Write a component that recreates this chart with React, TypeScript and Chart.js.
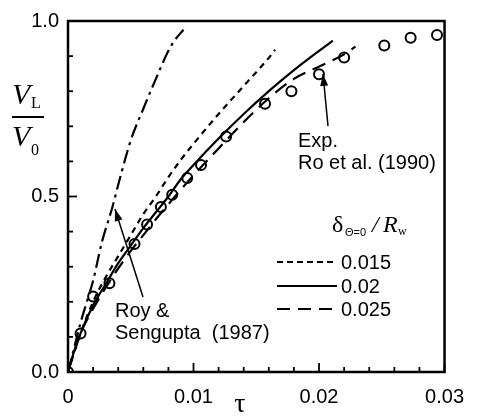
import React, { useEffect, useRef } from "react";
import { Chart, registerables } from "chart.js";

Chart.register(...registerables);

// ---- data ----
const expTau = [0, 0.001, 0.002, 0.0033, 0.0053, 0.0063, 0.0074, 0.0083, 0.0095, 0.0106, 0.0126, 0.0157, 0.0178, 0.02, 0.022, 0.0252, 0.0273, 0.0294];
const expV = [0, 0.11, 0.215, 0.253, 0.365, 0.42, 0.47, 0.505, 0.553, 0.59, 0.671, 0.764, 0.8, 0.848, 0.896, 0.93, 0.952, 0.96];

const tau015 = [0, 0.001, 0.002, 0.003, 0.004, 0.005, 0.006, 0.007, 0.008, 0.009, 0.01, 0.012, 0.014, 0.016, 0.0165];
const v015 = [0, 0.11, 0.2, 0.27, 0.33, 0.39, 0.45, 0.5, 0.555, 0.605, 0.65, 0.735, 0.815, 0.895, 0.918];

const tau02 = [0, 0.0005, 0.001, 0.002, 0.003, 0.004, 0.005, 0.006, 0.007, 0.008, 0.009, 0.01, 0.012, 0.014, 0.016, 0.018, 0.02, 0.0211];
const v02 = [0, 0.06, 0.11, 0.19, 0.25, 0.31, 0.36, 0.41, 0.455, 0.5, 0.55, 0.59, 0.665, 0.735, 0.8, 0.86, 0.915, 0.944];

const tau025 = [0, 0.001, 0.002, 0.003, 0.004, 0.005, 0.006, 0.007, 0.008, 0.009, 0.01, 0.012, 0.014, 0.016, 0.018, 0.02, 0.022, 0.0229];
const v025 = [0, 0.11, 0.18, 0.24, 0.295, 0.345, 0.39, 0.435, 0.478, 0.52, 0.56, 0.637, 0.712, 0.78, 0.835, 0.87, 0.905, 0.927];

const tauRoy = [0, 0.0005, 0.001, 0.0015, 0.002, 0.0027, 0.0035, 0.0042, 0.005, 0.006, 0.007, 0.008, 0.0085, 0.0092];
const vRoy = [0, 0.07, 0.14, 0.2, 0.26, 0.37, 0.465, 0.56, 0.66, 0.75, 0.835, 0.915, 0.945, 0.975];

const xTickLabels: Record<string, string> = { "0": "0", "0.01": "0.01", "0.02": "0.02", "0.03": "0.03" };
const yTickLabels: Record<string, string> = { "0": "0.0", "0.5": "0.5", "1": "1.0" };
const legendLabels = ["0.015", "0.02", "0.025"];

const SANS = '"Liberation Sans", Arial, sans-serif';
const SERIF = '"Liberation Serif", "Times New Roman", serif';

const zip = (xs: number[], ys: number[]) => xs.map((x, i) => ({ x, y: ys[i] }));
const key = (v: number) => String(Math.round(v * 1000) / 1000);

function arrow(ctx: CanvasRenderingContext2D, x1: number, y1: number, x2: number, y2: number) {
  ctx.beginPath();
  ctx.moveTo(x1, y1);
  ctx.lineTo(x2, y2);
  ctx.lineWidth = 1.5;
  ctx.stroke();
  const a = Math.atan2(y2 - y1, x2 - x1);
  const L = 12, W = 4;
  ctx.beginPath();
  ctx.moveTo(x2, y2);
  ctx.lineTo(x2 - L * Math.cos(a) + W * Math.sin(a), y2 - L * Math.sin(a) - W * Math.cos(a));
  ctx.lineTo(x2 - L * Math.cos(a) - W * Math.sin(a), y2 - L * Math.sin(a) + W * Math.cos(a));
  ctx.closePath();
  ctx.fill();
}

const decorPlugin = {
  id: "decor",
  afterDatasetsDraw(chart: any) {
    const { ctx, chartArea: ca, scales } = chart;
    const xs = scales.x, ys = scales.y;
    ctx.save();
    ctx.strokeStyle = "#000";
    ctx.fillStyle = "#000";
    ctx.setLineDash([]);
    // frame
    ctx.lineWidth = 2.5;
    ctx.strokeRect(ca.left, ca.top, ca.right - ca.left, ca.bottom - ca.top);
    // ticks (inward)
    ctx.lineWidth = 1.8;
    xs.ticks.forEach((t: any) => {
      const px = xs.getPixelForValue(t.value);
      const major = xTickLabels[key(t.value)] !== undefined;
      ctx.beginPath();
      ctx.moveTo(px, ca.bottom);
      ctx.lineTo(px, ca.bottom - (major ? 9 : 5));
      ctx.stroke();
    });
    ys.ticks.forEach((t: any) => {
      const py = ys.getPixelForValue(t.value);
      const major = yTickLabels[key(t.value)] !== undefined;
      ctx.beginPath();
      ctx.moveTo(ca.left, py);
      ctx.lineTo(ca.left + (major ? 9 : 5), py);
      ctx.stroke();
    });

    // annotations
    ctx.font = `20px ${SANS}`;
    ctx.textAlign = "left";
    ctx.textBaseline = "alphabetic";
    ctx.fillText("Exp.", 298, 147);
    ctx.fillText("Ro et al. (1990)", 298, 169);
    ctx.fillText("Roy &", 115, 317);
    ctx.fillText("Sengupta  (1987)", 115, 339);
    arrow(ctx, 328, 126, 323, 74);
    arrow(ctx, 143, 297, 115, 209);

    // legend
    const lx1 = 277, lx2 = 337;
    const rows = [262, 286, 309];
    const dashes = [[6, 4], [], [13, 8]];
    rows.forEach((y, i) => {
      ctx.setLineDash(dashes[i]);
      ctx.lineWidth = 2.2;
      ctx.beginPath();
      ctx.moveTo(lx1, y);
      ctx.lineTo(lx2, y);
      ctx.stroke();
      ctx.setLineDash([]);
      ctx.font = `20px ${SANS}`;
      ctx.textBaseline = "middle";
      ctx.fillText(legendLabels[i], 341, y + 1);
    });
    ctx.textBaseline = "alphabetic";
    ctx.font = `24px ${SERIF}`;
    ctx.fillText("\u03b4", 332, 232);
    ctx.font = `11px ${SANS}`;
    ctx.fillText("\u0398=0", 345, 236);
    ctx.font = `italic 24px ${SERIF}`;
    ctx.fillText("/", 372, 232);
    ctx.fillText("R", 383, 232);
    ctx.font = `12px ${SERIF}`;
    ctx.fillText("w", 398, 235);

    // y-axis label: V_L / V_0
    ctx.font = `italic 30px ${SERIF}`;
    ctx.fillText("V", 12, 104);
    ctx.fillText("V", 12, 146);
    ctx.font = `16px ${SERIF}`;
    ctx.fillText("L", 31, 108);
    ctx.fillText("0", 31, 155);
    ctx.lineWidth = 2;
    ctx.beginPath();
    ctx.moveTo(12, 117);
    ctx.lineTo(44, 117);
    ctx.stroke();

    // x-axis label
    ctx.font = `28px ${SERIF}`;
    ctx.textAlign = "center";
    ctx.fillText("\u03c4", 240, 412);
    ctx.restore();
  },
};

export default function App() {
  const ref = useRef<HTMLCanvasElement>(null);
  useEffect(() => {
    if (!ref.current) return;
    const lineDs = (label: string, data: any[], dash: number[]) => ({
      label,
      data,
      borderColor: "#000",
      borderWidth: 2.2,
      borderDash: dash,
      pointRadius: 0,
      fill: false,
      tension: 0.4,
      cubicInterpolationMode: "monotone" as const,
    });
    const chart = new Chart(ref.current, {
      type: "line",
      data: {
        datasets: [
          lineDs("0.015", zip(tau015, v015), [6, 5]),
          lineDs("0.02", zip(tau02, v02), []),
          lineDs("0.025", zip(tau025, v025), [14, 8]),
          lineDs("Roy & Sengupta (1987)", zip(tauRoy, vRoy), [14, 5, 3, 5]),
          {
            label: "Exp. Ro et al. (1990)",
            data: zip(expTau, expV),
            showLine: false,
            pointStyle: "circle",
            pointRadius: 5,
            pointBorderWidth: 2,
            pointBorderColor: "#000",
            pointBackgroundColor: "rgba(0,0,0,0)",
          } as any,
        ],
      },
      options: {
        responsive: false,
        animation: false,
        devicePixelRatio: 1,
        layout: { padding: { left: 0, right: 29, top: 16, bottom: 0 } },
        plugins: { legend: { display: false }, tooltip: { enabled: false } },
        scales: {
          x: {
            type: "linear",
            min: 0,
            max: 0.03,
            afterFit: (s: any) => { s.height = 47; },
            border: { display: false },
            grid: { display: false, drawTicks: false },
            ticks: {
              stepSize: 0.002,
              autoSkip: false,
              maxRotation: 0,
              padding: 13,
              color: "#000",
              font: { family: SANS, size: 20 },
              callback: (v: any) => xTickLabels[key(Number(v))] ?? "",
            },
          },
          y: {
            type: "linear",
            min: 0,
            max: 1,
            afterFit: (s: any) => { s.width = 68; },
            border: { display: false },
            grid: { display: false, drawTicks: false },
            ticks: {
              stepSize: 0.1,
              autoSkip: false,
              padding: 9,
              color: "#000",
              font: { family: SANS, size: 20 },
              callback: (v: any) => yTickLabels[key(Number(v))] ?? "",
            },
          },
        },
      },
      plugins: [decorPlugin],
    });
    return () => chart.destroy();
  }, []);
  return (
    <div style={{ position: "absolute", left: 0, top: 0, width: 477, height: 419, background: "#fff" }}>
      <canvas ref={ref} width={477} height={419} style={{ display: "block" }} />
    </div>
  );
}
